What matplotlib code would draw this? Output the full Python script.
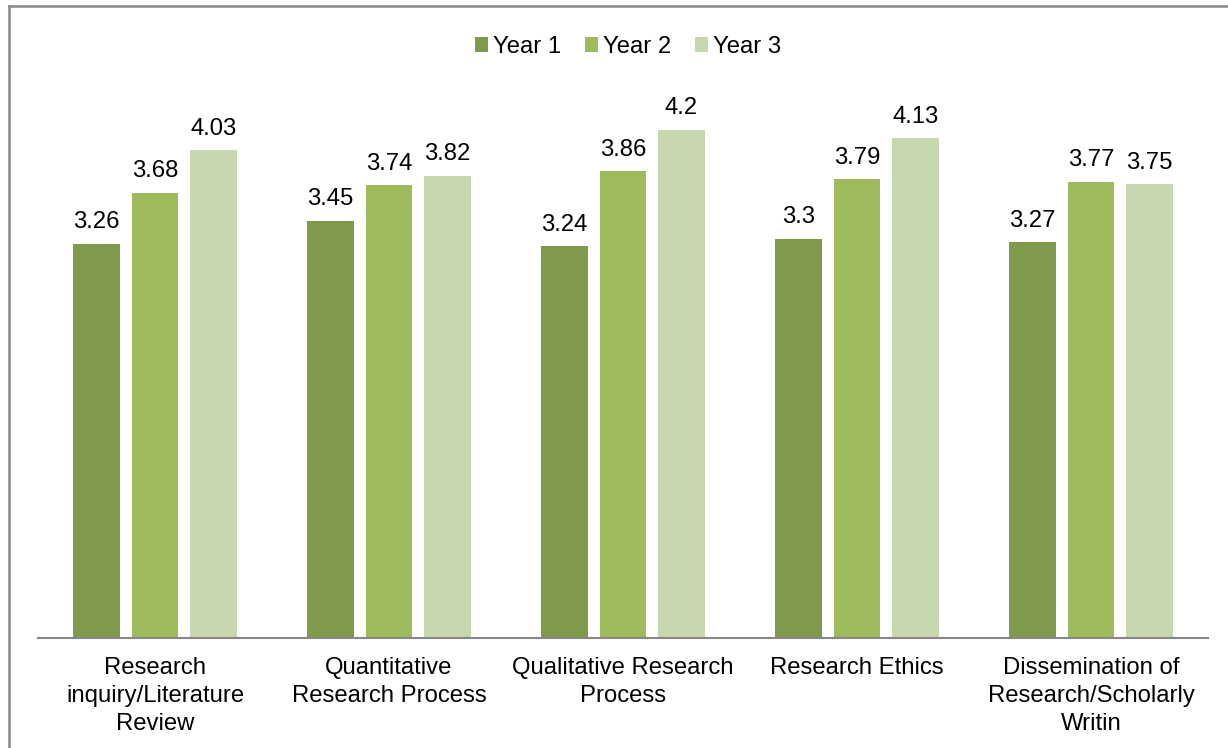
import matplotlib
matplotlib.use("Agg")
import matplotlib.pyplot as plt
import numpy as np
from matplotlib.patches import Patch
from matplotlib.lines import Line2D

categories = [
    "Research\ninquiry/Literature\nReview",
    "Quantitative\nResearch Process",
    "Qualitative Research\nProcess",
    "Research Ethics",
    "Dissemination of\nResearch/Scholarly\nWritin",
]
series_names = ["Year 1", "Year 2", "Year 3"]
year1 = [3.26, 3.45, 3.24, 3.30, 3.27]
year2 = [3.68, 3.74, 3.86, 3.79, 3.77]
year3 = [4.03, 3.82, 4.20, 4.13, 3.75]
value_labels = [
    ["3.26", "3.45", "3.24", "3.3", "3.27"],
    ["3.68", "3.74", "3.86", "3.79", "3.77"],
    ["4.03", "3.82", "4.2", "4.13", "3.75"],
]
colors = ["#7F9A4A", "#9DBB5A", "#C7D7AE"]

plt.rcParams["font.family"] = ["Liberation Sans", "DejaVu Sans"]
FS = 17.2

fig = plt.figure(figsize=(12.28, 7.48), dpi=100)
ax = fig.add_axes([38 / 1228, 110 / 748, 1170 / 1228, (638 - 93.5) / 748])

x = np.arange(len(categories))
offset = 0.25
width = 0.197
for i, vals in enumerate([year1, year2, year3]):
    pos = x + (i - 1) * offset
    bars = ax.bar(pos, vals, width=width, color=colors[i], label=series_names[i], zorder=2)
    for b, txt in zip(bars, value_labels[i]):
        ax.annotate(txt, (b.get_x() + b.get_width() / 2, b.get_height()),
                    xytext=(0, 7.5), textcoords="offset points",
                    ha="center", va="bottom", fontsize=FS, color="#000000")

ax.set_xlim(-0.5, len(categories) - 0.5)
ax.set_ylim(0, 4.5)
ax.set_xticks(x)
ax.set_xticklabels(categories, fontsize=FS, color="#000000", linespacing=1.34)
ax.tick_params(axis="x", length=0, pad=14)
ax.set_yticks([])
for s in ["left", "right", "top"]:
    ax.spines[s].set_visible(False)
ax.spines["bottom"].set_color("#878787")
ax.spines["bottom"].set_linewidth(1.5)

handles = [Patch(facecolor=c, edgecolor="none") for c in colors]
fig.legend(handles, series_names, loc="center", bbox_to_anchor=(628 / 1228, 1 - 47 / 748),
           ncol=3, frameon=False, fontsize=FS, handlelength=0.55, handleheight=0.55,
           handletextpad=0.2, columnspacing=1.0)

# outer chart frame
fig.add_artist(Line2D([8.5 / 1228, 8.5 / 1228], [-0.05, 1 - 5.5 / 748],
                      transform=fig.transFigure, color="#878787", lw=1.8))
fig.add_artist(Line2D([8.5 / 1228, 1.05], [1 - 5.5 / 748, 1 - 5.5 / 748],
                      transform=fig.transFigure, color="#878787", lw=1.8))

fig.savefig("out.png", dpi=100)
